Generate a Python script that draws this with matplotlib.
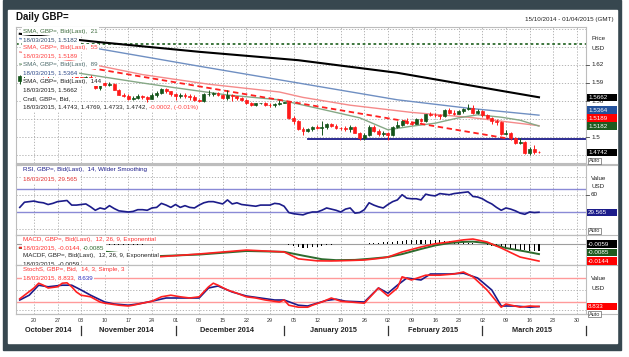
import matplotlib
matplotlib.use("Agg")
import matplotlib.pyplot as plt
from matplotlib.patches import Rectangle
import numpy as np
import pandas as pd

plt.rcParams["font.family"] = ["Liberation Sans", "DejaVu Sans"]

# trading days on the time axis, 15/10/2014 - 01/04/2015
days = pd.bdate_range("2014-10-15", "2015-04-01")

# daily GBP= candles, 15 Oct 2014 .. 18 Mar 2015
opens = [1.5925, 1.6015, 1.6090, 1.6120, 1.6145, 1.6110, 1.6030, 1.6025, 1.6070, 1.6120, 1.6140, 1.6030, 1.6015,
         1.5995, 1.5955, 1.5995, 1.5990, 1.5815, 1.5900, 1.5870, 1.5890, 1.5790, 1.5705, 1.5680, 1.5640, 1.5650,
         1.5680, 1.5665, 1.5640, 1.5700, 1.5730, 1.5800, 1.5760,
         1.5715, 1.5690, 1.5700, 1.5680, 1.5665, 1.5620, 1.5600, 1.5710, 1.5720, 1.5725, 1.5700, 1.5650, 1.5705,
         1.5680, 1.5655, 1.5620, 1.5565, 1.5535, 1.5560, 1.5565, 1.5540, 1.5530, 1.5545,
         1.5575, 1.5580, 1.5325, 1.5260, 1.5140, 1.5105, 1.5130, 1.5165, 1.5150, 1.5160, 1.5210, 1.5190, 1.5155,
         1.5145, 1.5130, 1.5165, 1.5075, 1.4985, 1.5035, 1.5165, 1.5100, 1.5050,
         1.5060, 1.5040, 1.5165, 1.5205, 1.5265, 1.5235, 1.5225, 1.5300, 1.5265, 1.5380, 1.5370, 1.5360, 1.5350,
         1.5455, 1.5400, 1.5390, 1.5435, 1.5460, 1.5490, 1.5400,
         1.5435, 1.5375, 1.5315, 1.5275, 1.5245, 1.5045, 1.5065, 1.4990, 1.4900, 1.4925, 1.4735, 1.4805, 1.4743]
highs = [1.6040, 1.6115, 1.6155, 1.6185, 1.6175, 1.6130, 1.6065, 1.6100, 1.6140, 1.6185, 1.6165, 1.6060, 1.6040,
         1.6005, 1.6020, 1.6035, 1.6005, 1.5925, 1.5920, 1.5915, 1.5900, 1.5805, 1.5735, 1.5710, 1.5680, 1.5715,
         1.5700, 1.5690, 1.5725, 1.5770, 1.5820, 1.5810, 1.5770,
         1.5735, 1.5740, 1.5725, 1.5715, 1.5700, 1.5640, 1.5730, 1.5785, 1.5745, 1.5745, 1.5720, 1.5785, 1.5715,
         1.5690, 1.5675, 1.5630, 1.5590, 1.5575, 1.5575, 1.5585, 1.5575, 1.5570, 1.5620,
         1.5590, 1.5585, 1.5345, 1.5285, 1.5160, 1.5150, 1.5185, 1.5195, 1.5270, 1.5235, 1.5235, 1.5215,
         1.5175, 1.5190, 1.5195, 1.5180, 1.5085, 1.5060, 1.5200, 1.5195, 1.5140, 1.5095,
         1.5085, 1.5190, 1.5270, 1.5290, 1.5310, 1.5250, 1.5310, 1.5310, 1.5390, 1.5420, 1.5395, 1.5380,
         1.5470, 1.5490, 1.5450, 1.5450, 1.5485, 1.5550, 1.5530, 1.5470,
         1.5450, 1.5390, 1.5330, 1.5300, 1.5265, 1.5115, 1.5080, 1.5005, 1.4990, 1.4935, 1.4830, 1.4860, 1.4769]
lows = [1.5875, 1.5990, 1.6065, 1.6095, 1.6085, 1.6005, 1.5990, 1.6000, 1.6050, 1.6100, 1.6015, 1.5990, 1.5950,
        1.5925, 1.5935, 1.5950, 1.5795, 1.5790, 1.5855, 1.5845, 1.5775, 1.5695, 1.5660, 1.5625, 1.5615, 1.5630,
        1.5640, 1.5590, 1.5630, 1.5675, 1.5715, 1.5735, 1.5690,
        1.5620, 1.5655, 1.5650, 1.5620, 1.5600, 1.5590, 1.5585, 1.5690, 1.5690, 1.5680, 1.5635, 1.5620, 1.5600,
        1.5615, 1.5600, 1.5545, 1.5510, 1.5520, 1.5550, 1.5525, 1.5505, 1.5505, 1.5535,
        1.5560, 1.5300, 1.5225, 1.5125, 1.5035, 1.5085, 1.5095, 1.5130, 1.5035, 1.5130, 1.5170, 1.5135,
        1.5120, 1.5105, 1.5085, 1.5060, 1.4950, 1.4955, 1.5015, 1.5085, 1.5020, 1.5020,
        1.4950, 1.5020, 1.5150, 1.5185, 1.5215, 1.5195, 1.5215, 1.5245, 1.5250, 1.5355, 1.5340, 1.5300,
        1.5340, 1.5385, 1.5370, 1.5380, 1.5405, 1.5450, 1.5380, 1.5385,
        1.5330, 1.5300, 1.5215, 1.5205, 1.5030, 1.5030, 1.4955, 1.4885, 1.4890, 1.4720, 1.4700, 1.4725, 1.4733]
closes = [1.6015, 1.6090, 1.6120, 1.6145, 1.6110, 1.6030, 1.6025, 1.6070, 1.6120, 1.6140, 1.6030, 1.6015, 1.5995,
          1.5955, 1.5995, 1.5990, 1.5815, 1.5900, 1.5870, 1.5890, 1.5790, 1.5705, 1.5680, 1.5640, 1.5650, 1.5680,
          1.5665, 1.5640, 1.5700, 1.5730, 1.5800, 1.5760, 1.5715,
          1.5690, 1.5700, 1.5680, 1.5665, 1.5620, 1.5600, 1.5710, 1.5720, 1.5725, 1.5700, 1.5650, 1.5705, 1.5680,
          1.5655, 1.5620, 1.5565, 1.5535, 1.5560, 1.5565, 1.5540, 1.5530, 1.5545, 1.5575,
          1.5580, 1.5325, 1.5260, 1.5140, 1.5105, 1.5130, 1.5165, 1.5150, 1.5160, 1.5210, 1.5190, 1.5155,
          1.5145, 1.5130, 1.5165, 1.5075, 1.4985, 1.5035, 1.5165, 1.5100, 1.5050, 1.5060,
          1.5040, 1.5165, 1.5205, 1.5265, 1.5235, 1.5225, 1.5300, 1.5265, 1.5380, 1.5370, 1.5360, 1.5350,
          1.5455, 1.5400, 1.5390, 1.5435, 1.5460, 1.5490, 1.5400, 1.5435,
          1.5375, 1.5315, 1.5275, 1.5245, 1.5045, 1.5065, 1.4990, 1.4900, 1.4925, 1.4735, 1.4805, 1.4744, 1.4742]

# moving averages, read at points along each line (day index, price)
sma21_day = [0, 12, 26, 33, 44, 55, 59, 63, 72, 78, 83, 88, 93, 97, 102, 106, 110]
sma21 = [1.6217, 1.607, 1.590, 1.582, 1.570, 1.562, 1.555, 1.548, 1.532, 1.512, 1.518, 1.523, 1.532, 1.537,
         1.533, 1.528, 1.5182]
sma55_day = [0, 16, 26, 40, 55, 60, 70, 83, 95, 110]
sma55 = [1.6417, 1.620, 1.604, 1.588, 1.575, 1.566, 1.553, 1.541, 1.533, 1.5189]
sma89_day = [0, 16, 38, 59, 80, 95, 110]
sma89 = [1.664, 1.648, 1.618, 1.590, 1.562, 1.548, 1.5364]
sma144_day = [0, 17, 38, 59, 80, 91, 102, 110]
sma144 = [1.672, 1.658, 1.642, 1.628, 1.607, 1.592, 1.577, 1.5662]

# drawn lines on the price panel
trend_day = [15, 103]
trend = [1.615, 1.498]
resist_level = 1.655
support_from = 61
support_level = 1.496

rsi = [38, 47, 48, 49, 47, 46, 43, 45, 48, 49, 50, 42, 42, 43, 44, 39, 33, 37, 35, 41,
       36, 32, 31, 30, 31, 34, 34, 33, 37, 38, 45, 42, 38, 43, 38, 41, 38, 37, 42, 46,
       48, 48, 46, 44, 51, 44, 46, 43, 42, 41, 40, 42, 42, 42, 45, 44, 40, 29, 27, 26,
       25, 28, 30, 30, 33, 37, 35, 33, 30, 35, 37, 28, 29, 34, 46, 42, 39, 37, 43, 48,
       51, 60, 54, 53, 53, 51, 61, 59, 58, 62, 61, 60, 62, 63, 64, 65, 57, 56, 53, 48,
       44, 38, 33, 37, 35, 32, 28, 26, 30, 29, 29.565]

macd_day = [0, 10, 20, 28, 38, 48, 56, 59, 63, 66, 70, 73, 76, 78, 81, 85, 88, 91, 94, 96, 99, 102, 106, 110]
macd = [-0.0030, -0.0040, -0.0085, -0.0112, -0.0084, -0.0051, -0.0067, -0.0125, -0.0142, -0.0143, -0.0139,
        -0.0135, -0.0122, -0.0110, -0.0067, -0.0025, 0.0002, 0.0017, 0.0035, 0.0042, 0.0017, -0.0034,
        -0.0110, -0.0144]
signal_day = [0, 10, 20, 28, 38, 48, 56, 60, 64, 67, 71, 74, 78, 81, 85, 88, 91, 94, 96, 99, 103, 107, 110]
signal = [-0.0033, -0.0037, -0.0072, -0.0104, -0.0089, -0.0059, -0.0066, -0.0098, -0.0128, -0.0136, -0.0134,
          -0.0125, -0.0110, -0.0085, -0.0042, -0.0012, 0.0008, 0.0018, 0.0020, 0.0008, -0.0034, -0.0062,
          -0.0085]
hist = [0.0004, 0.0005, 0.0006, 0.0006, 0.0005, 0.0004, 0.0003, 0.0003, 0.0004, 0.0005,
        0.0004, 0.0002, 0.0000, -0.0002, -0.0003, -0.0003, -0.0006, -0.0007, -0.0008, -0.0008,
        -0.0009, -0.0010, -0.0010, -0.0009, -0.0008, -0.0007, -0.0005, -0.0004,
        0.0002, 0.0002, 0.0003, 0.0003, 0.0003, 0.0003, 0.0004, 0.0004, 0.0003, 0.0003,
        0.0003, 0.0003, 0.0004, 0.0004, 0.0004, 0.0003, 0.0003, 0.0003, 0.0003, 0.0003,
        0.0002, 0.0002, 0.0002, 0.0002, 0.0001, 0.0001, 0.0001, 0.0001,
        -0.0003, -0.0012, -0.0020, -0.0026, -0.0030, -0.0030, -0.0027, -0.0022, -0.0016,
        -0.0010, -0.0006, -0.0003, -0.0001, 0.0001, 0.0002, 0.0001, -0.0001,
        0.0003, 0.0007, 0.0010, 0.0012, 0.0014, 0.0017, 0.0020, 0.0024, 0.0028, 0.0031,
        0.0031, 0.0033, 0.0035, 0.0036, 0.0034, 0.0032, 0.0030, 0.0028, 0.0025, 0.0022,
        0.0019, 0.0015, 0.0011, 0.0007, 0.0003,
        -0.0002, -0.0008, -0.0014, -0.0020, -0.0028, -0.0034, -0.0039, -0.0044, -0.0048,
        -0.0052, -0.0055, -0.0057, -0.0059]

stoch_k_day = [0, 3, 4, 5, 6, 8, 9, 10, 11, 12, 13, 15, 17, 18, 21, 23, 24, 26, 28, 30,
               32, 34, 36, 38, 40, 41, 42, 44, 46, 48, 50, 52, 55, 56, 57, 59, 61, 62, 64, 66,
               68, 73, 76, 78, 80, 81, 83, 86, 89, 92, 94, 96, 99, 102, 103, 106, 108, 110]
stoch_k = [28, 55, 67, 62, 55, 58, 67, 68, 58, 45, 37, 33, 20, 17, 12, 10, 12, 17, 22, 33,
           37, 33, 30, 33, 58, 67, 62, 50, 42, 33, 30, 25, 20, 25, 12, 7, 7, 12, 20, 30,
           22, 17, 55, 35, 55, 83, 75, 87, 87, 90, 95, 83, 50, 7, 15, 7, 10, 8.833]
stoch_d_day = [0, 2, 4, 6, 9, 11, 13, 15, 18, 20, 23, 25, 28, 31, 34, 38, 40, 42, 45, 48,
               51, 54, 56, 59, 61, 63, 65, 67, 69, 73, 76, 78, 80, 82, 85, 87, 91, 94, 97, 100,
               102, 105, 108, 110]
stoch_d = [25, 37, 62, 58, 62, 62, 50, 37, 20, 15, 12, 15, 22, 30, 30, 30, 55, 60, 45, 35,
           30, 25, 25, 12, 10, 17, 24, 27, 22, 20, 55, 42, 62, 80, 75, 90, 90, 92, 80, 50,
           10, 10, 7, 8.639]

UP = "#14541a"
DOWN = "#ff1a1a"
NAVY = "#1c1c8a"
DKGREEN = "#2e6b2e"
RED = "#ff2020"
GRID = "#a9a9a9"
FS = 4.5

W, H = 629, 357
fig = plt.figure(figsize=(W / 100, H / 100), dpi=100)

bg = fig.add_axes([0, 0, 1, 1], zorder=-5)
bg.set_xlim(0, W)
bg.set_ylim(H, 0)
bg.axis("off")
bg.add_patch(Rectangle((3, 0), 618, 350, color="#37474f"))
bg.add_patch(Rectangle((8, 10), 609, 333, color="white"))

mondays = [i for i, d in enumerate(days) if d.weekday() == 0]


def panel(top_px, bottom_px):
    ax = fig.add_axes([16 / W, 1 - bottom_px / H, 570 / W, (bottom_px - top_px) / H])
    ax.set_xlim(-0.8, 119.96)
    ax.set_xticks(mondays)
    ax.tick_params(length=0, labelbottom=False, labelleft=False)
    for s in ax.spines.values():
        s.set_color("#bdbdbd")
        s.set_linewidth(0.8)
    ax.grid(True, color=GRID, lw=0.6, ls=(0, (1.5, 2)))
    ax.set_axisbelow(True)
    return ax


ax_p = panel(27, 163)
ax_r = panel(165, 235)
ax_m = panel(235, 265)
ax_s = panel(265, 314)

# price panel
ax_p.set_ylim(1.45667, 1.68333)
ax_p.set_yticks([1.47, 1.50, 1.53, 1.56, 1.59, 1.62, 1.65, 1.68])
ax_p.axhline(resist_level, color=DKGREEN, lw=1.3, ls=(0, (1.5, 1.5)), zorder=2)
ax_p.plot([support_from, 119.96], [support_level, support_level], color=NAVY, lw=1.3, zorder=2)
ax_p.plot(sma144_day, sma144, color="black", lw=1.5, zorder=2)
ax_p.plot(sma89_day, sma89, color="#6f8fc2", lw=1.0, zorder=2)
ax_p.plot(sma55_day, sma55, color="#f58a8a", lw=1.0, zorder=2)
ax_p.plot(sma21_day, sma21, color="#86a886", lw=1.0, zorder=2)
ax_p.plot(trend_day, trend, color=RED, lw=1.3, ls=(0, (3, 2)), zorder=2)

o = np.array(opens)
c = np.array(closes)
idx = np.arange(len(c))
cols = np.where(c >= o, UP, DOWN)
ax_p.vlines(idx, lows, highs, colors=cols, lw=0.7, zorder=3)
ax_p.bar(idx, np.abs(c - o), bottom=np.minimum(o, c), width=0.62, color=cols,
         edgecolor=cols, lw=0.5, zorder=4)

# RSI panel
ax_r.set_ylim(-10, 111.7)
ax_r.set_yticks([0, 60, 90])
ax_r.axhline(70, color="#8a8ad6", lw=1.0, zorder=2)
ax_r.axhline(30, color="#8a8ad6", lw=1.0, zorder=2)
ax_r.plot(np.arange(len(rsi)), rsi, color=NAVY, lw=1.2, zorder=3)

# MACD panel
ax_m.set_ylim(-0.0177, 0.0076)
ax_m.set_yticks([])
ax_m.axhline(0, color="#9e9e9e", lw=0.8, zorder=1)
ax_m.bar(np.arange(len(hist)), hist, width=0.22, color="black", zorder=2)
ax_m.plot(signal_day, signal, color=DKGREEN, lw=1.4, zorder=3)
ax_m.plot(macd_day, macd, color=RED, lw=1.2, zorder=4)

# stochastic panel
ax_s.set_ylim(-10, 112.5)
ax_s.set_yticks([0, 50])
ax_s.axhline(80, color="#ff9a9a", lw=1.0, zorder=2)
ax_s.axhline(20, color="#ff9a9a", lw=1.0, zorder=2)
ax_s.plot(stoch_d_day, stoch_d, color=NAVY, lw=1.2, zorder=3)
ax_s.plot(stoch_k_day, stoch_k, color=RED, lw=1.2, zorder=4)

# overlay for texts and right-hand scale
top = fig.add_axes([0, 0, 1, 1], zorder=5)
top.set_xlim(0, W)
top.set_ylim(H, 0)
top.axis("off")
renderer = fig.canvas.get_renderer()


def ypix(ax, v):
    return H - ax.transData.transform((0, v))[1]


def xpix(i):
    return ax_p.transData.transform((i, 0))[0]


def row(x, y, parts, clip_ax=None):
    for s, col in parts:
        t = top.text(x, y, s, color=col, fontsize=FS, va="center", ha="left", zorder=8,
                     bbox=dict(facecolor="white", edgecolor="none", pad=1.1))
        if clip_ax is not None:
            t.set_clip_on(True)
            t.set_clip_box(clip_ax.bbox)
        x += t.get_window_extent(renderer).width


def rtick(y, s):
    top.plot([586, 589], [y, y], color="#444444", lw=0.6)
    top.text(591, y, s, fontsize=FS, va="center", color="#222222")


def vbox(y, s, fc):
    top.add_patch(Rectangle((586.5, y - 3.7), 30, 7.4, facecolor=fc, edgecolor="none", zorder=6))
    top.text(588, y + 0.2, s, color="white", fontsize=FS, va="center", ha="left", zorder=7)


def auto(y):
    top.text(589, y, "Auto", fontsize=4, color="#333333", va="center", zorder=7,
             bbox=dict(facecolor="white", edgecolor="#666666", lw=0.5, pad=0.5))


def stacked(ax, items, gap=8.0):
    # items: (value, text, colour); boxes pushed upward so they don't overlap
    placed = []
    last = None
    for v, s, fc in sorted(items, key=lambda it: -ypix(ax, it[0])):
        y = ypix(ax, v)
        if last is not None and y > last - gap:
            y = last - gap
        placed.append((y, s, fc))
        last = y
    for y, s, fc in placed:
        vbox(y, s, fc)


# separators that run across the right-hand scale too
for yy in [163.5, 165, 235, 265, 314]:
    top.plot([16, 617], [yy, yy], color="#bdbdbd", lw=0.8)

top.text(16, 17, "Daily GBP=", fontsize=7, fontweight="bold", va="center", color="#111111")
top.text(614, 19, "15/10/2014 - 01/04/2015 (GMT)", fontsize=FS, ha="right", va="center", color="#222222")

# price scale
top.text(591, 39, "Price", fontsize=FS, va="center", color="#222222")
top.text(591, 48, "USD", fontsize=FS, va="center", color="#222222")
for v, s in [(1.62, "1.62"), (1.59, "1.59"), (1.56, "1.56"), (1.50, "1.5")]:
    rtick(ypix(ax_p, v), s)
stacked(ax_p, [(sma144[-1], f"{sma144[-1]:.4f}", "black"),
               (sma89[-1], f"{sma89[-1]:.4f}", "#24529c"),
               (sma55[-1], f"{sma55[-1]:.4f}", "#ff0000"),
               (sma21[-1], f"{sma21[-1]:.4f}", "#1e5a1e")])
vbox(ypix(ax_p, closes[-1]), f"{closes[-1]:.4f}", "black")
auto(161)

# RSI scale
top.text(591, 178, "Value", fontsize=FS, va="center", color="#222222")
top.text(591, 186.5, "USD", fontsize=FS, va="center", color="#222222")
rtick(ypix(ax_r, 60), "60")
vbox(ypix(ax_r, rsi[-1]), f"{rsi[-1]:.3f}", NAVY)
auto(231)

# MACD scale
stacked(ax_m, [(macd[-1], f"{macd[-1]:.4f}", "#ff0000"),
               (signal[-1], f"{signal[-1]:.4f}", "#1e5a1e"),
               (hist[-1], f"{hist[-1]:.4f}", "black")], gap=8.5)

# stochastic scale
top.text(591, 279, "Value", fontsize=FS, va="center", color="#222222")
top.text(591, 288, "USD", fontsize=FS, va="center", color="#222222")
vbox(ypix(ax_s, stoch_k[-1]), f"{stoch_k[-1]:.3f}", "#ff0000")
auto(314)

# legend rows
chg = closes[-1] - closes[-2]
pct = chg / closes[-2] * 100
row(23, 31, [("SMA, GBP=, Bid(Last),  21", "#3d6b3d")])
row(23, 39.5, [(f"18/03/2015, {sma21[-1]:.4f}", "#2f4a6e")])
row(23, 47.5, [("SMA, GBP=, Bid(Last),  55", "#ff4040")])
row(23, 56, [(f"18/03/2015, {sma55[-1]:.4f}", "#ff4040")])
row(23, 64.5, [("SMA, GBP=, Bid(Last),  89", "#4d6b6b")])
row(23, 73, [(f"18/03/2015, {sma89[-1]:.4f}", "#2f4a8a")])
row(23, 81.5, [("SMA, GBP=, Bid(Last),  144", "#222222")])
row(23, 90, [(f"18/03/2015, {sma144[-1]:.4f}", "#222222")])
row(23, 98.5, [("Cndl, GBP=, Bid,", "#222222")])
row(23, 107, [(f"18/03/2015, {opens[-1]:.4f}, {highs[-1]:.4f}, {lows[-1]:.4f}, {closes[-1]:.4f}, ", "#222222"),
              (f"{chg:.4f}, ({pct:.2f}%)", "#ff4040")])

row(23, 170, [("RSI, GBP=, Bid(Last),  14, Wilder Smoothing", NAVY)])
row(23, 178.5, [(f"18/03/2015, {rsi[-1]:.3f}", "#e03030")])

row(23, 240, [("MACD, GBP=, Bid(Last),  12, 26, 9, Exponential", "#ff3030")])
row(23, 248, [(f"18/03/2015, {macd[-1]:.4f}, ", "#ff3030"), (f"{signal[-1]:.4f}", DKGREEN)])
row(23, 256, [("MACDF, GBP=, Bid(Last),  12, 26, 9, Exponential", "#222222")])
row(23, 264, [(f"18/03/2015, {hist[-1]:.4f}", "#222222")], clip_ax=ax_m)

row(23, 269.5, [("StochS, GBP=, Bid,  14, 3, Simple, 3", "#ff3030")])
row(23, 278, [(f"18/03/2015, {stoch_k[-1]:.3f}, ", "#ff3030"), (f"{stoch_d[-1]:.3f}", "#3030c0")])

# time axis labels
for i in mondays:
    top.text(xpix(i), 320, f"{days[i].day:02d}", ha="center", va="center", fontsize=3.9, color="#333333")

months = pd.Series(range(len(days)), index=days).groupby([days.year, days.month])
for n, ((yr, mo), grp) in enumerate(months):
    first, last = grp.iloc[0], grp.iloc[-1]
    if n > 0:
        top.plot([xpix(first), xpix(first)], [325.5, 335], color="#333333", lw=0.9)
    if last > first:
        top.text(xpix((first + last) / 2), 330.5, days[first].strftime("%B %Y"), ha="center",
                 va="center", fontsize=5.3, fontweight="bold", color="#222222")

fig.savefig("out.png", dpi=100)
